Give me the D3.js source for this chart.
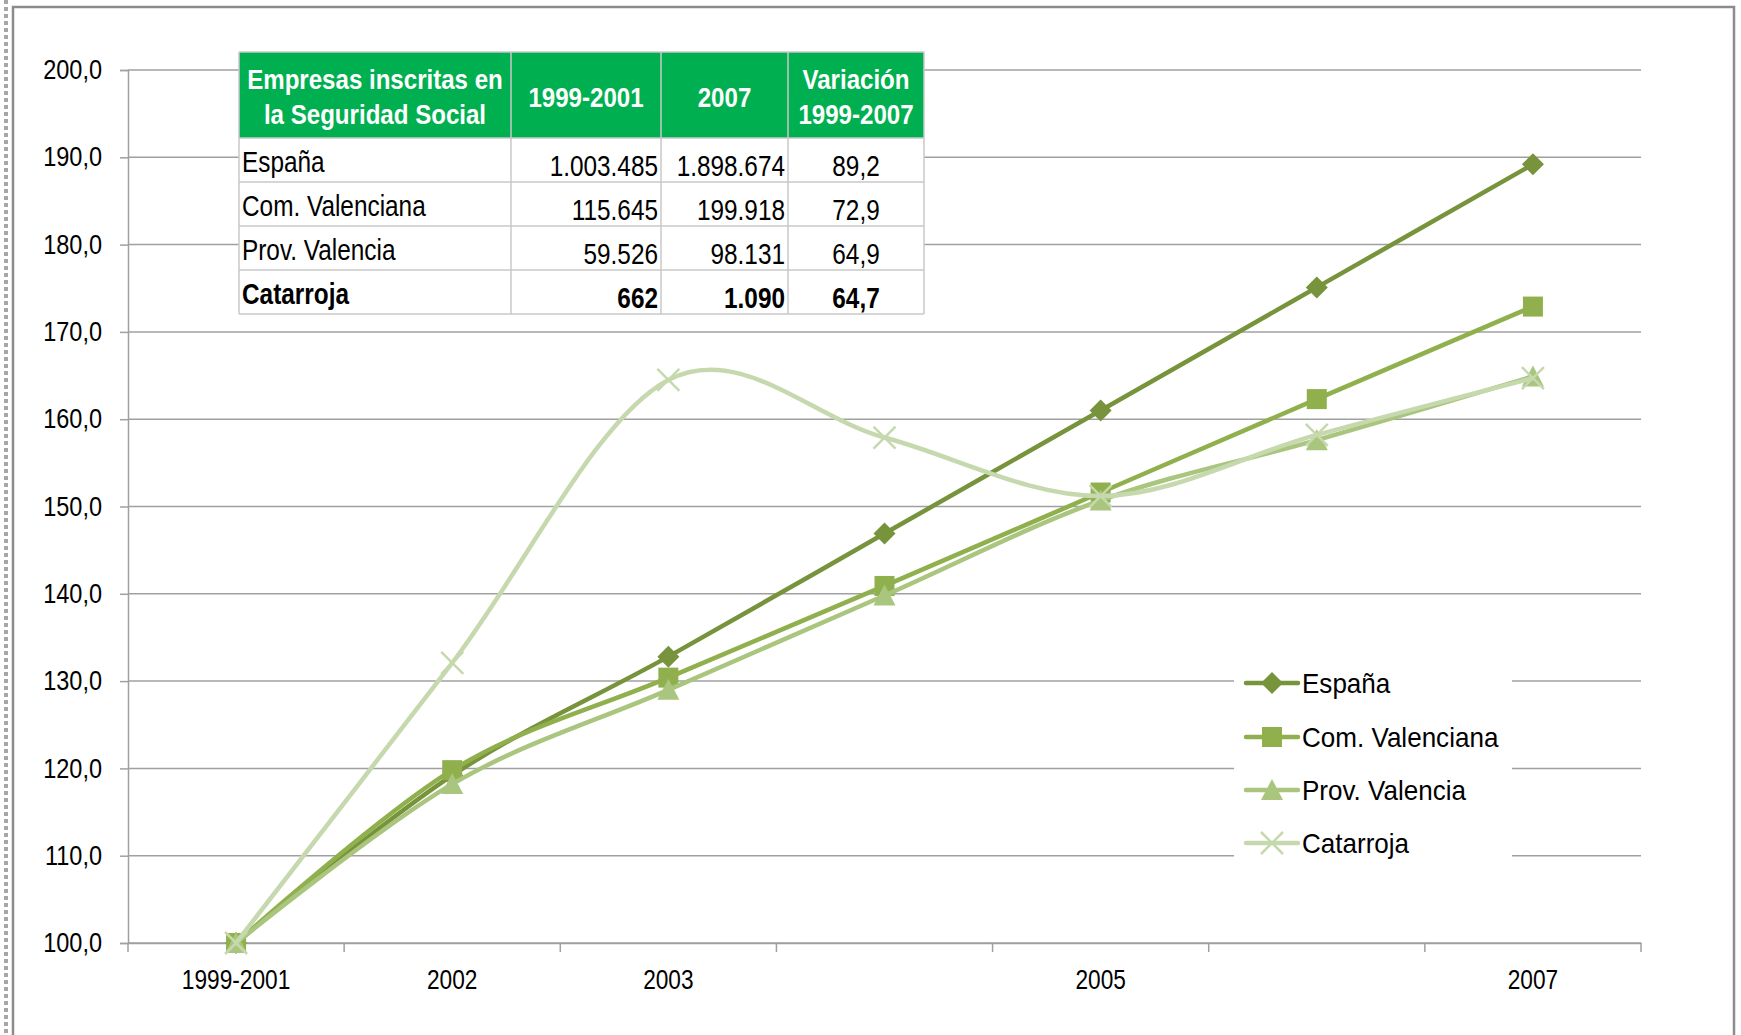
<!DOCTYPE html>
<html><head><meta charset="utf-8">
<script src="https://cdn.jsdelivr.net/npm/d3@7"></script>
<style>body{margin:0;background:#fff}svg{display:block}</style>
</head><body>
<svg id="c" width="1741" height="1035"></svg>
<script>
// ---- data ----
const categories = ["1999-2001","2002","2003","2004","2005","2006","2007"];
const categoryLabels = ["1999-2001","2002","2003","","2005","","2007"];
const seriesNames = ["España","Com. Valenciana","Prov. Valencia","Catarroja"];
const espana = [100, 119.2, 132.8, 146.9, 161.0, 175.1, 189.2];
const comValenciana = [100, 119.8, 130.4, 140.9, 151.6, 162.3, 172.9];
const provValencia = [100, 118.2, 129.0, 139.8, 150.7, 157.6, 164.9];
const catarroja = [100, 132.1, 164.5, 157.9, 151.2, 158.2, 164.7];
const yTicks = [100,110,120,130,140,150,160,170,180,190,200];

const tableHeader = ["Empresas inscritas en|la Seguridad Social","1999-2001","2007","Variación|1999-2007"];
const tableNames = ["España","Com. Valenciana","Prov. Valencia","Catarroja"];
const table1999 = ["1.003.485","115.645","59.526","662"];
const table2007 = ["1.898.674","199.918","98.131","1.090"];
const tableVar = ["89,2","72,9","64,9","64,7"];

// ---- styles ----
const colors = ["#77933c","#8fb04c","#a9c57e","#c6d9ae"];
const shapes = ["diamond","square","triangle","x"];
const FONT = "'Liberation Sans', Arial, sans-serif";

// condense text horizontally (emulates a narrow face)
function squeeze(sel, f){
  sel.each(function(){
    const len = this.getComputedTextLength();
    if (len > 0) d3.select(this).attr("textLength", len*f).attr("lengthAdjust","spacingAndGlyphs");
  });
}

const svg = d3.select("#c");
const L = 128, R = 1641, T = 70, B = 943;
const x = d3.scaleBand().domain(categories).range([L, R]);
const y = d3.scaleLinear().domain([100, 200]).range([B, T]);

// frame
svg.append("line").attr("x1",6).attr("x2",6).attr("y1",0).attr("y2",1035)
  .attr("stroke","#a6a6a6").attr("stroke-width",4).attr("stroke-dasharray","4 3");
svg.append("path").attr("d",`M13,1040 V7 H1734 V1040`).attr("fill","none")
  .attr("stroke","#8c8c8c").attr("stroke-width",2.5);

// gridlines
svg.append("g").selectAll("line").data(yTicks).join("line")
  .attr("x1",L).attr("x2",R).attr("y1",d=>y(d)).attr("y2",d=>y(d))
  .attr("stroke","#a0a0a0").attr("stroke-width",1.5);

// y axis
const yAxis = svg.append("g").attr("transform",`translate(${L},0)`)
  .call(d3.axisLeft(y).tickValues(yTicks).tickSize(8).tickPadding(18)
    .tickFormat(d=>d.toFixed(1).replace(".",",")));
yAxis.select(".domain").attr("stroke","#a0a0a0").attr("stroke-width",1.5);
yAxis.selectAll(".tick line").attr("stroke","#a0a0a0").attr("stroke-width",1.5);
yAxis.selectAll("text").attr("font-family",FONT).attr("font-size",27).attr("fill","#000");
squeeze(yAxis.selectAll("text"), 0.87);

// x axis
const xAxis = svg.append("g").attr("transform",`translate(0,${B})`)
  .call(d3.axisBottom(x).tickSize(0).tickPadding(27)
    .tickFormat((d,i)=>categoryLabels[i]));
xAxis.select(".domain").attr("stroke","#a0a0a0").attr("stroke-width",1.5);
xAxis.selectAll("text").attr("font-family",FONT).attr("font-size",27).attr("fill","#000");
squeeze(xAxis.selectAll("text"), 0.84);
const bounds = categories.map(c=>x(c)).concat([x.range()[1]]);
xAxis.selectAll(".bt").data(bounds).join("line").attr("class","bt")
  .attr("x1",d=>d).attr("x2",d=>d).attr("y1",0).attr("y2",9)
  .attr("stroke","#a0a0a0").attr("stroke-width",1.5);

// table
const colX = [239, 511, 661, 788, 924];
const rowY = [52, 138, 182, 226, 270, 314];
const tg = svg.append("g");
tg.append("rect").attr("x",colX[0]).attr("y",rowY[0]).attr("width",colX[4]-colX[0])
  .attr("height",rowY[5]-rowY[0]).attr("fill","#fff");
tg.append("rect").attr("x",colX[0]).attr("y",rowY[0]).attr("width",colX[4]-colX[0])
  .attr("height",rowY[1]-rowY[0]).attr("fill","#00b050");
tg.selectAll(".vl").data(colX).join("line").attr("class","vl")
  .attr("x1",d=>d).attr("x2",d=>d).attr("y1",rowY[0]).attr("y2",rowY[5])
  .attr("stroke","#c8c8c8").attr("stroke-width",1.5);
tg.selectAll(".hl").data(rowY).join("line").attr("class","hl")
  .attr("x1",colX[0]).attr("x2",colX[4]).attr("y1",d=>d).attr("y2",d=>d)
  .attr("stroke","#c8c8c8").attr("stroke-width",1.5);
tableHeader.forEach((h,ci)=>{
  const lines = h.split("|");
  const cx = (colX[ci]+colX[ci+1])/2;
  const ys = lines.length===2 ? [89,124] : [107];
  lines.forEach((ln,li)=>{
    const t = tg.append("text").attr("x",cx).attr("y",ys[li]).attr("text-anchor","middle")
      .attr("font-family",FONT).attr("font-weight","bold").attr("font-size",28).attr("fill","#fff").text(ln);
    squeeze(t, 0.86);
  });
});
tableNames.forEach((n,ri)=>{
  const top = rowY[ri+1];
  const bold = ri===3 ? "bold" : "normal";
  const cells = [
    [colX[0]+3, top+34, "start", n],
    [colX[2]-3, top+38, "end", table1999[ri]],
    [colX[3]-3, top+38, "end", table2007[ri]],
    [(colX[3]+colX[4])/2, top+38, "middle", tableVar[ri]]
  ];
  cells.forEach(c=>{
    const t = tg.append("text").attr("x",c[0]).attr("y",c[1]).attr("text-anchor",c[2])
      .attr("font-family",FONT).attr("font-size",29).attr("font-weight",bold).attr("fill","#000").text(c[3]);
    squeeze(t, 0.84);
  });
});

// legend background
svg.append("rect").attr("x",1234).attr("y",630).attr("width",278).attr("height",240).attr("fill","#fff");

// markers
function marker(g, shape, color, cx, cy){
  if (shape==="diamond"){
    g.append("path").attr("d",`M${cx},${cy-11}L${cx+11},${cy}L${cx},${cy+11}L${cx-11},${cy}Z`).attr("fill",color);
  } else if (shape==="square"){
    g.append("rect").attr("x",cx-10).attr("y",cy-10).attr("width",20).attr("height",20).attr("fill",color);
  } else if (shape==="triangle"){
    g.append("path").attr("d",`M${cx},${cy-11}L${cx+11},${cy+10}L${cx-11},${cy+10}Z`).attr("fill",color);
  } else {
    g.append("path").attr("d",`M${cx-11},${cy-11}L${cx+11},${cy+11}M${cx+11},${cy-11}L${cx-11},${cy+11}`)
      .attr("stroke",color).attr("stroke-width",2.5).attr("fill","none");
  }
}

const allSeries = [espana, comValenciana, provValencia, catarroja];
const line = d3.line().x((d,i)=>x(categories[i])+x.bandwidth()/2).y(d=>y(d))
  .curve(d3.curveCardinal.tension(0));
allSeries.forEach((vals,si)=>{
  const g = svg.append("g");
  g.append("path").attr("d",line(vals)).attr("fill","none").attr("stroke",colors[si])
    .attr("stroke-width",4.5).attr("stroke-linejoin","round").attr("stroke-linecap","round");
  vals.forEach((v,i)=>marker(g, shapes[si], colors[si], x(categories[i])+x.bandwidth()/2, y(v)));
});

// legend
const legY = [683, 737, 790, 843];
seriesNames.forEach((n,i)=>{
  const g = svg.append("g");
  g.append("line").attr("x1",1246).attr("x2",1298).attr("y1",legY[i]).attr("y2",legY[i])
    .attr("stroke",colors[i]).attr("stroke-width",4.5).attr("stroke-linecap","round");
  marker(g, shapes[i], colors[i], 1272, legY[i]);
  const t = g.append("text").attr("x",1302).attr("y",legY[i]+10).attr("font-family",FONT)
    .attr("font-size",28).attr("fill","#000").text(n);
  squeeze(t, 0.93);
});
</script>
</body></html>
